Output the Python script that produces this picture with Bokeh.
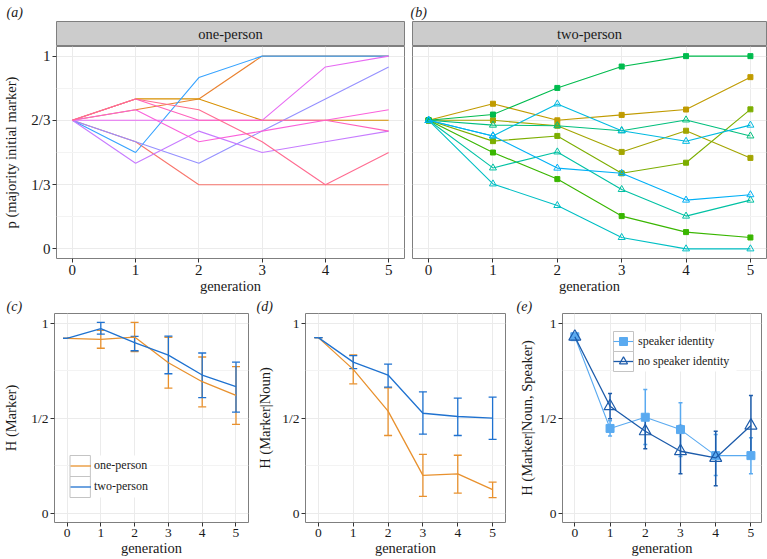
from bokeh.plotting import figure
from bokeh.models import (Range1d, FixedTicker, Legend, LegendItem, Title,
                          Whisker, TeeHead, ColumnDataSource, BoxAnnotation)
from bokeh.layouts import column, row
from bokeh.embed import file_html
from bokeh.resources import INLINE
from bokeh.core.properties import value

# ---------------- data ----------------
generation = [0, 1, 2, 3, 4, 5]

# (a) one-person chains: p(majority initial marker)
one_c1 = [0.667, 0.556, 0.333, 0.333, 0.333, 0.333]
one_c2 = [0.667, 0.722, 0.778, 1.000, 1.000, 1.000]
one_c3 = [0.667, 0.778, 0.778, 0.667, 0.667, 0.667]
one_c4 = [0.667, 0.500, 0.889, 1.000, 1.000, 1.000]
one_c5 = [0.667, 0.556, 0.444, 0.611, 0.778, 0.944]
one_c6 = [0.667, 0.444, 0.611, 0.500, 0.556, 0.611]
one_c7 = [0.667, 0.667, 0.667, 0.667, 0.944, 1.000]
one_c8 = [0.667, 0.722, 0.556, 0.611, 0.667, 0.722]
one_c9 = [0.667, 0.778, 0.667, 0.667, 0.667, 0.611]
one_c10 = [0.667, 0.778, 0.722, 0.556, 0.333, 0.500]

# (b) two-person chains
two_c1 = [0.667, 0.753, 0.667, 0.695, 0.723, 0.891]
two_c2 = [0.667, 0.667, 0.639, 0.503, 0.613, 0.472]
two_c3 = [0.667, 0.559, 0.586, 0.392, 0.447, 0.724]
two_c4 = [0.667, 0.500, 0.362, 0.170, 0.087, 0.059]
two_c5 = [0.667, 0.697, 0.835, 0.946, 1.000, 1.000]
two_c6 = [0.667, 0.642, 0.639, 0.613, 0.669, 0.586]
two_c7 = [0.667, 0.420, 0.503, 0.308, 0.170, 0.253]
two_c8 = [0.667, 0.337, 0.225, 0.059, 0.000, 0.000]
two_c9 = [0.667, 0.586, 0.752, 0.613, 0.558, 0.642]
two_c10 = [0.667, 0.586, 0.419, 0.392, 0.253, 0.281]

# (c) H(Marker)
c_one_mean = [0.919, 0.914, 0.926, 0.791, 0.691, 0.619]
c_one_lower = [0.919, 0.867, 0.850, 0.657, 0.559, 0.466]
c_one_upper = [0.919, 0.961, 1.003, 0.925, 0.821, 0.770]
c_two_mean = [0.919, 0.970, 0.897, 0.831, 0.726, 0.665]
c_two_lower = [0.919, 0.941, 0.854, 0.733, 0.607, 0.531]
c_two_upper = [0.919, 1.003, 0.930, 0.931, 0.842, 0.794]

# (d) H(Marker|Noun)
d_one_mean = [0.923, 0.756, 0.536, 0.198, 0.206, 0.123]
d_one_lower = [0.923, 0.680, 0.408, 0.088, 0.105, 0.081]
d_one_upper = [0.923, 0.832, 0.659, 0.309, 0.304, 0.163]
d_two_mean = [0.923, 0.794, 0.726, 0.525, 0.508, 0.499]
d_two_lower = [0.923, 0.760, 0.663, 0.415, 0.408, 0.387]
d_two_upper = [0.923, 0.828, 0.784, 0.638, 0.605, 0.610]

# (e) H(Marker|Noun, Speaker)
e_sp_mean = [0.928, 0.445, 0.504, 0.439, 0.302, 0.302]
e_sp_lower = [0.928, 0.405, 0.360, 0.298, 0.197, 0.206]
e_sp_upper = [0.928, 0.485, 0.650, 0.580, 0.413, 0.396]
e_nosp_mean = [0.928, 0.562, 0.430, 0.325, 0.290, 0.460]
e_nosp_lower = [0.928, 0.496, 0.338, 0.206, 0.144, 0.301]
e_nosp_upper = [0.928, 0.629, 0.513, 0.460, 0.430, 0.619]

p_ticks = [0, 1/3, 2/3, 1]
p_tick_labels = ["0", "1/3", "2/3", "1"]
p_minor = [1/6, 1/2, 5/6]
h_ticks = [0, 0.5, 1]
h_tick_labels = ["0", "1/2", "1"]
h_minor = [0.25, 0.75]

one_person_chains = [one_c1, one_c2, one_c3, one_c4, one_c5,
                     one_c6, one_c7, one_c8, one_c9, one_c10]
two_person_chains = [two_c1, two_c2, two_c3, two_c4, two_c5,
                     two_c6, two_c7, two_c8, two_c9, two_c10]

# ---------------- styles ----------------
one_person_colors = ["#F8766D", "#EA8331", "#D89000", "#35A2FF", "#9590FF",
                     "#C77CFF", "#E76BF3", "#FA62DB", "#FF62BC", "#FF6C91"]
two_person_colors = ["#C09B00", "#A3A500", "#7CAE00", "#39B600", "#00BB4E",
                     "#00BF7D", "#00C1A3", "#00BFC4", "#00BAE0", "#00B0F6"]
two_person_markers = ["square"] * 5 + ["triangle"] * 5

ORANGE = "#E8912E"
BLUE = "#1F72D0"
LIGHT = "#5AAAF0"
DARK = "#1C5BAA"
SERIF = "Liberation Serif"
TXT = "#1A1A1A"
BORDER = "#7F7F7F"


def add_tag(p, text, offset, standoff=0):
    p.add_layout(Title(text=text, align="left", offset=offset, standoff=standoff,
                       text_font=SERIF, text_font_size="14px",
                       text_font_style="italic", text_color=TXT), "above")


def make_strip(fig_box, frame_box, text, tag, tag_offset):
    fx0, fx1, fy0, fy1 = fig_box
    l, r, t, b = frame_box
    p = figure(width=fx1 - fx0, height=fy1 - fy0,
               x_range=Range1d(-0.25, 5.25), y_range=Range1d(0, 1),
               title=None, output_backend="svg", toolbar_location=None,
               x_axis_location=None, y_axis_location=None,
               min_border_left=l - fx0, min_border_right=fx1 - r,
               min_border_top=t - fy0, min_border_bottom=fy1 - b)
    p.grid.visible = False
    p.background_fill_color = "#CCCCCC"
    p.border_fill_color = "white"
    p.outline_line_color = BORDER
    p.text(x=[2.5], y=[0.5], text=[text], text_font=value(SERIF),
           text_font_size="14.5px", text_align="center", text_baseline="middle",
           text_color=TXT)
    add_tag(p, tag, tag_offset, standoff=4)
    return p


def make_panel(fig_box, frame_box, xr, yr, yticks, ylabels, yminor, tick_size,
               ylabel=None, ylabel_standoff=5, show_y=True):
    fx0, fx1, fy0, fy1 = fig_box
    l, r, t, b = frame_box
    W = fx1 - fx0
    H = fy1 - fy0
    bl, br, bt, bb = l - fx0, fx1 - r, t - fy0, fy1 - b
    p = figure(width=W, height=H, x_range=Range1d(*xr), y_range=Range1d(*yr),
               title=None, output_backend="svg", toolbar_location=None,
               min_border_left=bl, min_border_right=br,
               min_border_top=bt, min_border_bottom=bb)
    p.outline_line_color = BORDER
    p.outline_line_width = 1
    p.background_fill_color = "white"
    p.border_fill_color = "white"
    xt = FixedTicker(ticks=generation)
    p.xaxis.ticker = xt
    p.xgrid.ticker = xt
    yt = FixedTicker(ticks=yticks, minor_ticks=yminor)
    p.yaxis.ticker = yt
    p.ygrid.ticker = yt
    p.yaxis.major_label_overrides = dict(zip(yticks, ylabels))
    for ax in p.xaxis + p.yaxis:
        ax.axis_line_color = None
        ax.major_tick_line_color = "#333333"
        ax.major_tick_in = 0
        ax.major_tick_out = 4
        ax.minor_tick_line_color = None
        ax.major_label_text_font = SERIF
        ax.major_label_text_font_size = tick_size
        ax.major_label_text_color = TXT
        ax.major_label_standoff = 2
        ax.axis_label_text_font = SERIF
        ax.axis_label_text_font_size = "14.5px"
        ax.axis_label_text_font_style = "normal"
        ax.axis_label_text_color = TXT
    p.xaxis.axis_label = "generation"
    p.xaxis.axis_label_standoff = 0
    if ylabel is not None:
        p.yaxis.axis_label = ylabel
        p.yaxis.axis_label_standoff = ylabel_standoff
    p.xgrid.grid_line_color = "#EBEBEB"
    p.ygrid.grid_line_color = "#EBEBEB"
    p.ygrid.minor_grid_line_color = "#F3F3F3"
    if not show_y:
        p.yaxis.visible = False

    fw = W - bl - br
    fh = H - bt - bb

    def scr_to_data(sx, sy):
        return (xr[0] + sx / fw * (xr[1] - xr[0]),
                yr[0] + sy / fh * (yr[1] - yr[0]))

    return p, scr_to_data


def add_err(p, lower, upper, color, width, head):
    src = ColumnDataSource(dict(x=generation, lower=lower, upper=upper))
    p.add_layout(Whisker(source=src, base="x", lower="lower", upper="upper",
                         line_color=color, line_width=width,
                         upper_head=TeeHead(size=head, line_color=color, line_width=width),
                         lower_head=TeeHead(size=head, line_color=color, line_width=width)))


def add_legend(p, scr_to_data, items, loc, gw, gh, standoff, text_w):
    n = len(items)
    x0, y0 = scr_to_data(loc[0], loc[1])
    x1, y1 = scr_to_data(loc[0] + gw + standoff + text_w, loc[1] + n * gh)
    p.add_layout(BoxAnnotation(left=x0, right=x1, bottom=y0, top=y1,
                               fill_color="white", fill_alpha=1.0, line_color=None))
    for i in range(n):
        bx0, by0 = scr_to_data(loc[0], loc[1] + i * gh)
        bx1, by1 = scr_to_data(loc[0] + gw, loc[1] + (i + 1) * gh)
        p.add_layout(BoxAnnotation(left=bx0, right=bx1, bottom=by0, top=by1,
                                   fill_alpha=0.0, line_color="#C4C4C4",
                                   line_width=1, line_alpha=1.0))
    leg = Legend(items=[LegendItem(label=lab, renderers=rs) for lab, rs in items],
                 location=loc, padding=0, margin=0, spacing=0,
                 glyph_width=gw, glyph_height=gh, label_height=gh,
                 label_standoff=standoff, border_line_color=None,
                 background_fill_alpha=0.0, label_text_font=SERIF,
                 label_text_font_size="12px", label_text_color=TXT)
    p.add_layout(leg)


YR = (-0.05, 1.05)

# ---------------- (a) ----------------
sa = make_strip((0, 406, 0, 46), (50, 404, 20, 46), "one-person", "(a)", -50)
pa, _ = make_panel((0, 406, 46, 296), (50, 404, 46, 258), (-0.25, 5.25), YR,
                   p_ticks, p_tick_labels, p_minor, "15px",
                   ylabel="p (majority initial marker)", ylabel_standoff=9)
for vals, c in zip(one_person_chains, one_person_colors):
    pa.line(generation, vals, line_color=c, line_width=1.1)

# ---------------- (b) ----------------
sb = make_strip((406, 767, 0, 46), (412, 766, 20, 46), "two-person", "(b)", -2)
pb, _ = make_panel((406, 767, 46, 296), (412, 766, 46, 258), (-0.25, 5.25), YR,
                   p_ticks, p_tick_labels, p_minor, "15px", show_y=False)
for vals, c, m in zip(two_person_chains, two_person_colors, two_person_markers):
    pb.line(generation, vals, line_color=c, line_width=1.1)
    if m == "square":
        pb.scatter(generation, vals, marker="square", size=5, fill_color=c, line_color=c)
    else:
        pb.scatter(generation, vals, marker="triangle", size=7, fill_color=None,
                   line_color=c, line_width=1)

# ---------------- (c) ----------------
pc, sc = make_panel((0, 254, 296, 559), (48, 248, 313, 522), (-0.37, 5.37), YR,
                    h_ticks, h_tick_labels, h_minor, "13.5px",
                    ylabel="H (Marker)", ylabel_standoff=9)
add_err(pc, c_one_lower, c_one_upper, ORANGE, 1.3, 8)
add_err(pc, c_two_lower, c_two_upper, BLUE, 1.3, 8)
rc1 = pc.line(generation, c_one_mean, line_color=ORANGE, line_width=1.3)
rc2 = pc.line(generation, c_two_mean, line_color=BLUE, line_width=1.3)
add_legend(pc, sc, [("one-person", [rc1]), ("two-person", [rc2])],
           (16, 25), 21, 21, 3, 58)
add_tag(pc, "(c)", -48)

# ---------------- (d) ----------------
pd_, _ = make_panel((254, 514, 296, 559), (304, 505, 313, 522), (-0.37, 5.37), YR,
                    h_ticks, h_tick_labels, h_minor, "13.5px",
                    ylabel="H (Marker|Noun)", ylabel_standoff=6)
add_err(pd_, d_one_lower, d_one_upper, ORANGE, 1.3, 8)
add_err(pd_, d_two_lower, d_two_upper, BLUE, 1.3, 8)
pd_.line(generation, d_one_mean, line_color=ORANGE, line_width=1.3)
pd_.line(generation, d_two_mean, line_color=BLUE, line_width=1.3)
add_tag(pd_, "(d)", -49)

# ---------------- (e) ----------------
pe, se = make_panel((514, 767, 296, 559), (562, 761, 313, 522), (-0.35, 5.3), YR,
                    h_ticks, h_tick_labels, h_minor, "13.5px",
                    ylabel="H (Marker|Noun, Speaker)", ylabel_standoff=1)
add_err(pe, e_sp_lower, e_sp_upper, LIGHT, 1.5, 4)
re1 = pe.line(generation, e_sp_mean, line_color=LIGHT, line_width=1.1)
re1m = pe.scatter(generation, e_sp_mean, marker="square", size=8,
                  fill_color=LIGHT, line_color=LIGHT)
add_err(pe, e_nosp_lower, e_nosp_upper, DARK, 1.5, 4)
re2 = pe.line(generation, e_nosp_mean, line_color=DARK, line_width=1.3)
re2m = pe.scatter(generation, e_nosp_mean, marker="triangle", size=12,
                  fill_color=None, line_color=DARK, line_width=1.2)
add_legend(pe, se, [("speaker identity", [re1, re1m]),
                    ("no speaker identity", [re2, re2m])],
           (51, 151), 20, 20, 5, 98)
add_tag(pe, "(e)", -46)

layout = column(row(column(sa, pa), column(sb, pb)), row(pc, pd_, pe))

with open("out.html", "w") as f:
    f.write(file_html(layout, INLINE))
